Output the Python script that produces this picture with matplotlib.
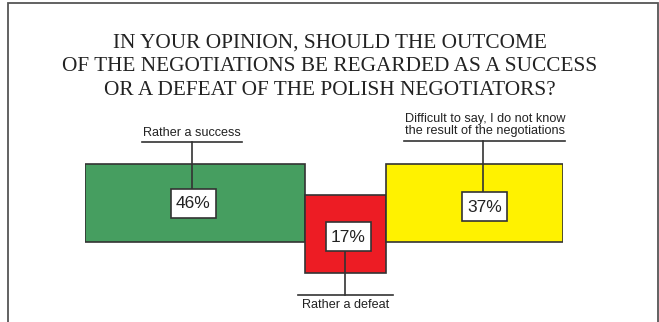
import matplotlib.pyplot as plt
from matplotlib.patches import Rectangle

# survey answers, left to right
categories = ['Rather a success', 'Rather a defeat',
              'Difficult to say, I do not know\nthe result of the negotiations']
shares = [46, 17, 37]
bar_colors = ['#469e60', '#ed1c24', '#fff200']

title_lines = ['IN YOUR OPINION, SHOULD THE OUTCOME',
               'OF THE NEGOTIATIONS BE REGARDED AS A SUCCESS',
               'OR A DEFEAT OF THE POLISH NEGOTIATORS?']

W, H = 659, 322
edge = '#333333'

# per-bar layout in pixels (y grows downwards)
bar_top = [163.7, 195.0, 163.7]
bar_h = 78.3
box_dx = [-1.5, 3.0, 10.5]          # box centre offset from bar centre
box_cy = [203.2, 236.8, 206.5]
lead_dx = [-2.5, 0.0, 9.0]
label_side = ['top', 'bottom', 'top']
label_line_y = [142.0, 295.3, 140.5]
label_line_w = [100, 95, 161]
box_w, box_h = 45, 29

fig = plt.figure(figsize=(W / 100, H / 100), dpi=100)

# full-figure overlay in pixel units for frame and title
ov = fig.add_axes([0, 0, 1, 1])
ov.set_xlim(0, W)
ov.set_ylim(H, 0)
ov.axis('off')
ov.plot([8, 8, 657.5, 657.5], [H, 2.5, 2.5, H], color='#555555', lw=1.3,
        solid_joinstyle='miter')
for k, line in enumerate(title_lines):
    ov.text(330, 47.7 + 23.6 * k, line, ha='center', va='baseline',
            family='Liberation Serif', fontsize=15.3, color='#222222')

# bar axes: x in percent, y in pixels
x0, x1 = 84.7, 562.7
px = (x1 - x0) / 100.0
ax = fig.add_axes([x0 / W, 0, (x1 - x0) / W, 1])
ax.set_xlim(0, 100)
ax.set_ylim(H, 0)
ax.axis('off')

left = 0
for i, v in enumerate(shares):
    ax.bar(left, bar_h, width=v, bottom=bar_top[i], align='edge',
           color=bar_colors[i], edgecolor=edge, linewidth=1.2, zorder=2)
    cx = left + v / 2
    bx = cx + box_dx[i] / px
    lx = cx + lead_dx[i] / px
    by0 = box_cy[i] - box_h / 2
    by1 = box_cy[i] + box_h / 2
    ax.add_patch(Rectangle((bx - box_w / 2 / px, by0), box_w / px, box_h,
                           facecolor='white', edgecolor=edge, lw=1.2, zorder=4))
    ax.text(bx, box_cy[i] + 0.5, f'{v}%', ha='center', va='center',
            family='Liberation Sans', fontsize=12.5, color='#222222', zorder=5)

    ly = label_line_y[i]
    ax.plot([lx, lx], [by0 if label_side[i] == 'top' else by1, ly],
            color=edge, lw=1.2, zorder=3, clip_on=False)
    ux = lx if i != 2 else lx + 1.5 / px
    ax.plot([ux - label_line_w[i] / 2 / px, ux + label_line_w[i] / 2 / px], [ly, ly],
            color=edge, lw=1.2, zorder=3, clip_on=False)
    if label_side[i] == 'top':
        ax.text(ux, ly - 3.5, categories[i], ha='center', va='bottom',
                family='Liberation Sans', fontsize=9.1, color='#222222',
                linespacing=1.05, clip_on=False)
    else:
        ax.text(ux, ly + 4, categories[i], ha='center', va='top',
                family='Liberation Sans', fontsize=9.1, color='#222222',
                clip_on=False)
    left += v

fig.savefig('out.png', dpi=100, facecolor='white')
